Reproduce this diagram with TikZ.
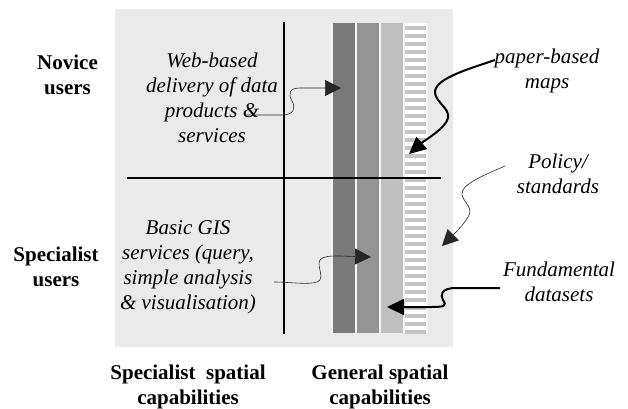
\documentclass[tikz,border=0pt]{standalone}
\usepackage{fontspec}
\setmainfont{Liberation Serif}
\usetikzlibrary{arrows.meta}
\definecolor{bg}{HTML}{EAEAEA}
\definecolor{barA}{HTML}{7A7A7A}
\definecolor{barB}{HTML}{949494}
\definecolor{barC}{HTML}{C0C0C0}
\definecolor{stripe}{HTML}{C4C4C4}
\definecolor{gapc}{HTML}{F4F4F4}
\begin{document}
\begin{tikzpicture}[x=1pt,y=-1pt,
  lbl/.style={inner sep=0pt,align=center,font=\fontsize{21}{25}\selectfont\itshape},
  hdr/.style={inner sep=0pt,align=center,font=\fontsize{21}{25}\selectfont\bfseries},
  axis/.style={line width=1.6pt},
  thinarrow/.style={line width=0.6pt,draw=black!85,-{Triangle[length=16pt,width=16pt]}},
  thickarrow/.style={line width=2pt,-{Triangle[length=17pt,width=16pt]}}]
\useasboundingbox (0,0) rectangle (628,408);
% background
\fill[bg] (115,9) rectangle (453,347);
% bars
\fill[gapc] (331,23) rectangle (428,333);
\fill[barA] (333,23) rectangle (355,333);
\fill[barB] (357,23) rectangle (379,333);
\fill[barC] (381,23) rectangle (403,333);
\fill[white] (405,23) rectangle (426,333);
\foreach \k in {0,...,38}{
  \fill[stripe] (405,{25.5+8*\k}) rectangle (426,{29.5+8*\k});
}
% axes
\coordinate (vtop) at (284,22);
\coordinate (vbot) at (284,334);
\coordinate (hl) at (127,178);
\coordinate (hr) at (441,178);
\draw[axis] (vtop) -- (vbot);
\draw[axis] (hl) -- (hr);
% labels
\node[hdr] (novice) at (67.5,75) {Novice\\users};
\node[hdr] (specialist) at (56,266.5) {Specialist\\users};
\node[hdr] (speccap) at (188,386.5) {Specialist~ spatial\\capabilities};
\node[hdr] (gencap) at (380,386.5) {General spatial\\capabilities};
\node[lbl] (web) at (212,97.5) {Web-based\\delivery of data\\products \&\\services};
\node[lbl] (basic) at (188,267) {Basic GIS\\services (query,\\simple analysis\\\& visualisation)};
\node[lbl] (paper) at (547,70.5) {paper-based\\maps};
\node[lbl] (policy) at (558,173.5) {Policy/\\standards};
\node[lbl] (fund) at (559,281.5) {Fundamental\\datasets};
% arrow end points
\coordinate (a1s) at (245,115);
\coordinate (a1e) at (341,88);
\coordinate (a5s) at (274,282);
\coordinate (a5e) at (371,257);
\coordinate (a2s) at (495,60);
\coordinate (a2e) at (409,154);
\coordinate (a3s) at (505,166);
\coordinate (a3e) at (442,246);
\coordinate (a4s) at (500,288);
\coordinate (a4e) at (387,307);
% arrows
\draw[thinarrow] (a1s) -- (282,115) .. controls (294,115) and (296,108) .. (292,101)
   .. controls (288,94) and (289,88) .. (300,88) -- (a1e);
\draw[thinarrow] (a5s) .. controls (290,282) and (308,285) .. (317,282)
   .. controls (326,279) and (316,266) .. (320,260)
   .. controls (323,256) and (330,256) .. (340,256) -- (a5e);
\draw[thickarrow] (a2s) .. controls (472,68) and (435,78) .. (435,92)
   .. controls (435,102) and (450,108) .. (448,118)
   .. controls (446,128) and (425,140) .. (a2e);
\draw[thinarrow] (a3s) .. controls (482,176) and (460,185) .. (462,195)
   .. controls (464,203) and (474,208) .. (468,217)
   .. controls (463,226) and (452,236) .. (a3e);
\draw[thickarrow] (a4s) -- (456,288) .. controls (441,288) and (440,295) .. (443,300)
   .. controls (447,306) and (445,307) .. (430,307) -- (a4e);
\end{tikzpicture}
\end{document}
